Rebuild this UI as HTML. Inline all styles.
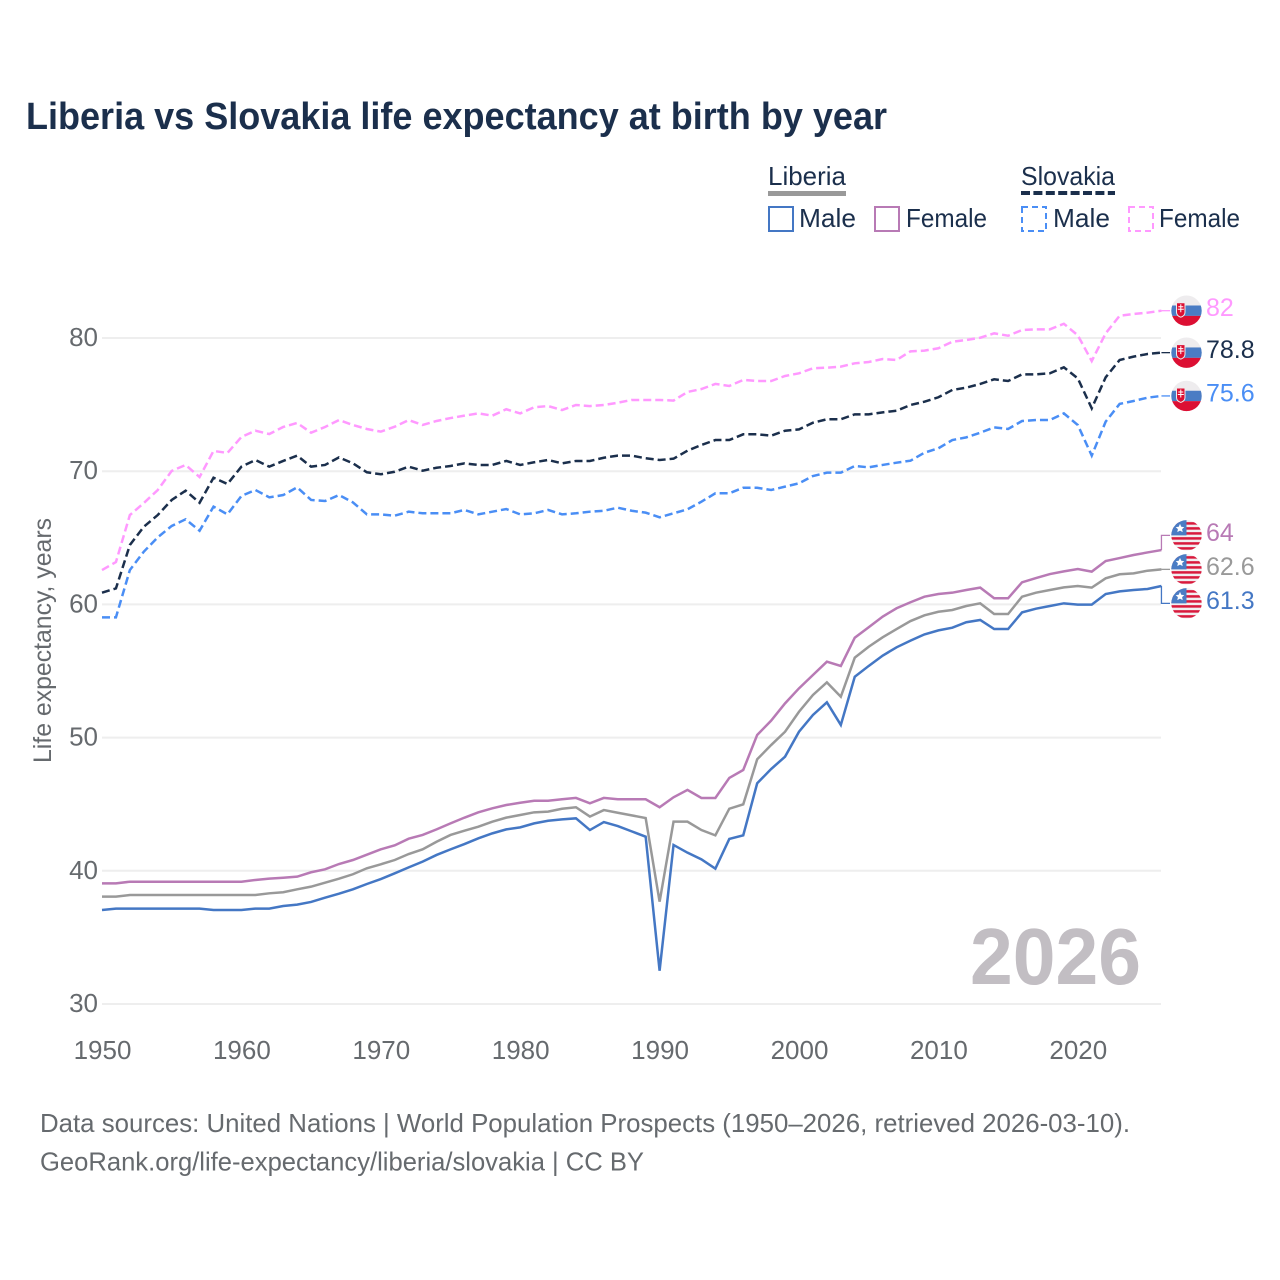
<!DOCTYPE html>
<html lang="en">
<head>
<meta charset="utf-8">
<title>Liberia vs Slovakia life expectancy at birth by year</title>
<style>
html,body{margin:0;padding:0;background:#fff;width:1280px;height:1280px;overflow:hidden}
svg{display:block}
text{font-family:"Liberation Sans",sans-serif}
</style>
</head>
<body>
<svg id="chart" xmlns="http://www.w3.org/2000/svg" width="1280" height="1280" viewBox="0 0 1280 1280">
  <defs>
    <clipPath id="flag-clip"><circle cx="0" cy="0" r="15.2"/></clipPath>
    <g id="flag-sk" clip-path="url(#flag-clip)">
      <rect x="-16" y="-16" width="32" height="32" fill="#eeecee"/>
      <rect x="-16" y="-5.2" width="32" height="10.4" fill="#4a7cc4"/>
      <rect x="-16" y="5.2" width="32" height="11" fill="#dc0f33"/>
      <path d="M-10 -8 H-1.5 V1.5 Q-1.5 5 -5.7 6.5 Q-10 5 -10 1.5 Z" fill="#dc0f33" stroke="#eeecee" stroke-width="1"/>
      <path d="M-6.2 -6.5 h1 v2 h2 v1 h-2 v1.5 h2.5 v1 h-2.5 v2.5 h-1 v-2.5 h-2.5 v-1 h2.5 v-1.5 h-2 v-1 h2 Z" fill="#fff"/>
    </g>
    <g id="flag-us" clip-path="url(#flag-clip)">
      <rect x="-16" y="-16" width="32" height="32" fill="#f1eef0"/>
      <rect x="-16" y="-13.2" width="32" height="2.5" fill="#d9193c"/>
      <rect x="-16" y="-8.2" width="32" height="2.5" fill="#d9193c"/>
      <rect x="-16" y="-3.2" width="32" height="2.5" fill="#d9193c"/>
      <rect x="-16" y="1.8" width="32" height="2.5" fill="#d9193c"/>
      <rect x="-16" y="6.8" width="32" height="2.5" fill="#d9193c"/>
      <rect x="-16" y="11.8" width="32" height="2.5" fill="#d9193c"/>
      <rect x="-16" y="-16" width="16" height="16" fill="#4a7cc4"/>
      <polygon points="-6.5,-11.5 -5.2,-8.6 -2.2,-8.3 -4.4,-6.3 -3.8,-3.3 -6.5,-4.8 -9.2,-3.3 -8.6,-6.3 -10.8,-8.3 -7.8,-8.6" fill="#fff"/>
    </g>
  </defs>

  <text x="26" y="129" font-size="38" font-weight="700" fill="#1b2f4c" textLength="861" lengthAdjust="spacingAndGlyphs">Liberia vs Slovakia life expectancy at birth by year</text>

  <g>
    <text x="768" y="185" font-size="26" fill="#1b2f4c" textLength="78" lengthAdjust="spacingAndGlyphs">Liberia</text>
    <line x1="768" y1="193.5" x2="846" y2="193.5" stroke="#999999" stroke-width="5"/>
    <text x="1021" y="185" font-size="26" fill="#1b2f4c" textLength="94" lengthAdjust="spacingAndGlyphs">Slovakia</text>
    <line x1="1021" y1="193" x2="1115" y2="193" stroke="#1b2f4c" stroke-width="4" stroke-dasharray="9 3.4"/>

    <rect x="769" y="207" width="24" height="24" fill="none" stroke="#4477c4" stroke-width="2"/>
    <text x="799" y="227" font-size="26" fill="#1b2f4c" textLength="57" lengthAdjust="spacingAndGlyphs">Male</text>
    <rect x="875" y="207" width="24" height="24" fill="none" stroke="#b87ab5" stroke-width="2"/>
    <text x="906" y="227" font-size="26" fill="#1b2f4c" textLength="81" lengthAdjust="spacingAndGlyphs">Female</text>
    <rect x="1022" y="207" width="24" height="24" fill="none" stroke="#4a8ef5" stroke-width="2" stroke-dasharray="6 4"/>
    <text x="1053" y="227" font-size="26" fill="#1b2f4c" textLength="57" lengthAdjust="spacingAndGlyphs">Male</text>
    <rect x="1129" y="207" width="24" height="24" fill="none" stroke="#ff99ff" stroke-width="2" stroke-dasharray="6 4"/>
    <text x="1159" y="227" font-size="26" fill="#1b2f4c" textLength="81" lengthAdjust="spacingAndGlyphs">Female</text>
  </g>

  <text transform="translate(51 640.5) rotate(-90)" text-anchor="middle" font-size="25" fill="#666a6e" textLength="245" lengthAdjust="spacingAndGlyphs">Life expectancy, years</text>

  <g id="grid"></g>
  <g id="y-ticks"></g>
  <g id="x-ticks"></g>

  <text x="970" y="984" font-size="80" font-weight="700" fill="#c2bec3" textLength="171" lengthAdjust="spacingAndGlyphs">2026</text>

  <g id="series"></g>
  <g id="end-labels"></g>

  <text x="40" y="1132" font-size="26" fill="#666a6e" textLength="1090" lengthAdjust="spacingAndGlyphs">Data sources: United Nations | World Population Prospects (1950–2026, retrieved 2026-03-10).</text>
  <text x="40" y="1170.5" font-size="26" fill="#666a6e" textLength="604" lengthAdjust="spacingAndGlyphs">GeoRank.org/life-expectancy/liberia/slovakia | CC BY</text>
</svg>

<script>
var firstYear = 1950;
var yTickValues = [30, 40, 50, 60, 70, 80];
var xTickValues = [1950, 1960, 1970, 1980, 1990, 2000, 2010, 2020];

var slovakiaFemale = [62.58,63.18,66.71,67.61,68.59,70.02,70.47,69.56,71.52,71.37,72.57,73.04,72.79,73.32,73.62,72.89,73.32,73.84,73.47,73.17,72.97,73.34,73.84,73.47,73.77,73.99,74.17,74.34,74.17,74.65,74.34,74.8,74.89,74.59,74.97,74.89,74.97,75.14,75.35,75.35,75.35,75.3,75.95,76.17,76.55,76.4,76.85,76.77,76.77,77.15,77.35,77.73,77.77,77.85,78.1,78.2,78.42,78.35,79.0,79.05,79.23,79.72,79.85,80.02,80.35,80.17,80.6,80.65,80.65,81.07,80.2,78.27,80.35,81.67,81.8,81.9,82.05];
var slovakiaTotal = [60.88,61.2,64.46,65.83,66.71,67.84,68.54,67.63,69.51,69.04,70.34,70.84,70.34,70.77,71.17,70.34,70.47,71.04,70.59,69.92,69.77,69.96,70.34,70.04,70.26,70.39,70.59,70.47,70.47,70.77,70.47,70.67,70.84,70.59,70.77,70.77,71.01,71.17,71.17,70.97,70.84,70.94,71.54,71.97,72.34,72.34,72.77,72.77,72.67,73.04,73.14,73.64,73.9,73.9,74.27,74.27,74.42,74.54,74.97,75.22,75.55,76.1,76.27,76.55,76.9,76.77,77.27,77.27,77.35,77.8,76.97,74.72,77.05,78.35,78.6,78.8,78.9];
var slovakiaMale = [59.03,59.03,62.58,63.96,65.04,65.89,66.39,65.53,67.34,66.76,68.14,68.59,68.04,68.21,68.79,67.84,67.76,68.21,67.66,66.76,66.76,66.66,66.96,66.84,66.84,66.84,67.09,66.76,66.96,67.16,66.76,66.84,67.09,66.76,66.84,66.96,67.03,67.26,67.03,66.89,66.54,66.84,67.14,67.71,68.34,68.34,68.76,68.76,68.59,68.84,69.09,69.64,69.89,69.89,70.39,70.29,70.47,70.64,70.79,71.39,71.72,72.34,72.54,72.89,73.29,73.17,73.77,73.84,73.84,74.34,73.47,71.17,73.72,75.05,75.27,75.52,75.65];
var liberiaFemale = [39.06,39.06,39.18,39.18,39.18,39.18,39.18,39.18,39.18,39.18,39.18,39.31,39.41,39.48,39.56,39.89,40.11,40.51,40.81,41.21,41.61,41.91,42.41,42.69,43.11,43.56,43.99,44.39,44.69,44.94,45.11,45.26,45.26,45.37,45.47,45.07,45.47,45.37,45.37,45.37,44.77,45.52,46.07,45.47,45.47,46.97,47.57,50.2,51.27,52.57,53.7,54.7,55.7,55.38,57.5,58.28,59.08,59.71,60.16,60.58,60.78,60.88,61.08,61.26,60.46,60.46,61.66,61.98,62.28,62.48,62.66,62.46,63.26,63.48,63.71,63.9,64.08];
var liberiaTotal = [38.06,38.06,38.18,38.18,38.18,38.18,38.18,38.18,38.18,38.18,38.18,38.18,38.31,38.39,38.61,38.81,39.11,39.41,39.74,40.19,40.49,40.81,41.26,41.61,42.18,42.69,43.01,43.31,43.69,43.99,44.19,44.39,44.44,44.66,44.77,44.07,44.56,44.36,44.16,43.96,37.68,43.69,43.69,43.06,42.66,44.66,44.99,48.37,49.44,50.44,51.94,53.2,54.15,53.07,56.0,56.82,57.53,58.15,58.75,59.18,59.45,59.58,59.88,60.08,59.28,59.28,60.58,60.88,61.08,61.28,61.38,61.26,61.96,62.26,62.33,62.53,62.63];
var liberiaMale = [37.06,37.16,37.16,37.16,37.16,37.16,37.16,37.16,37.06,37.06,37.06,37.16,37.16,37.36,37.46,37.66,37.98,38.28,38.61,39.01,39.38,39.81,40.26,40.69,41.19,41.61,42.01,42.44,42.81,43.11,43.26,43.56,43.76,43.86,43.94,43.06,43.66,43.36,42.96,42.56,32.5,41.94,41.36,40.86,40.16,42.39,42.66,46.57,47.64,48.57,50.44,51.7,52.65,50.95,54.57,55.38,56.15,56.78,57.28,57.75,58.05,58.25,58.66,58.83,58.15,58.15,59.4,59.68,59.88,60.08,59.98,59.98,60.78,60.98,61.08,61.16,61.38];

var endLabelValues = ["82", "78.8", "75.6", "64", "62.6", "61.3"];

var NS = "http://www.w3.org/2000/svg";
function xScale(year) { return 102 + (year - 1950) * 13.94; }
function yScale(v) { return 338 + (80 - v) * 13.32; }
function make(tag, attrs, parent) {
  var el = document.createElementNS(NS, tag);
  for (var k in attrs) el.setAttribute(k, attrs[k]);
  parent.appendChild(el);
  return el;
}

var gridG = document.getElementById("grid");
var yG = document.getElementById("y-ticks");
var xG = document.getElementById("x-ticks");
yTickValues.forEach(function (v) {
  var line = make("line", { x1: 102, x2: 1161, y1: yScale(v), y2: yScale(v), stroke: "#eeeeee", "stroke-width": 2 }, gridG);
  
  
  var t = make("text", { x: 98, y: yScale(v) + 8, "text-anchor": "end", "font-size": 26, fill: "#666a6e" }, yG);
  t.textContent = String(v);
  
  
});
xTickValues.forEach(function (y) {
  var t = make("text", { x: xScale(y) + 0.5, y: 1059, "text-anchor": "middle", "font-size": 26, fill: "#666a6e" }, xG);
  t.textContent = String(y);
  
  
});

var seriesG = document.getElementById("series");
var labelsG = document.getElementById("end-labels");
function drawSeries(values, color, dash, width) {
  var pts = values.map(function (v, i) {
    return xScale(firstYear + i).toFixed(2) + "," + yScale(v).toFixed(2);
  }).join(" ");
  var attrs = { points: pts, fill: "none", stroke: color, "stroke-width": width, "stroke-linejoin": "miter" };
  if (dash) attrs["stroke-dasharray"] = dash;
  return make("polyline", attrs, seriesG);
}

var sl1 = drawSeries(liberiaTotal, "#999999", null, 2.5);


var sl2 = drawSeries(liberiaFemale, "#b87ab5", null, 2.5);


var sl3 = drawSeries(liberiaMale, "#4477c4", null, 2.5);


var sl4 = drawSeries(slovakiaFemale, "#ff99ff", "8 4", 2.5);


var sl5 = drawSeries(slovakiaTotal, "#1b2f4c", "8 4", 2.5);


var sl6 = drawSeries(slovakiaMale, "#4a8ef5", "8 4", 2.5);



function last(a) { return a[a.length - 1]; }
var grayY = yScale(last(liberiaTotal));
var endEntries = [
  { s: slovakiaFemale, flag: "#flag-sk", color: "#ff99ff", offset: 0, idx: 0 },
  { s: slovakiaTotal, flag: "#flag-sk", color: "#1b2f4c", offset: 0, idx: 1 },
  { s: slovakiaMale, flag: "#flag-sk", color: "#4a8ef5", offset: 0, idx: 2 },
  { s: liberiaFemale, flag: "#flag-us", color: "#b87ab5", offset: -34, idx: 3 },
  { s: liberiaTotal, flag: "#flag-us", color: "#999999", offset: 0, idx: 4 },
  { s: liberiaMale, flag: "#flag-us", color: "#4477c4", offset: 34, idx: 5 }
];
endEntries.forEach(function (e) {
  var y0 = yScale(last(e.s));
  var yL = e.offset === 0 ? y0 : grayY + e.offset;
  var xEnd = xScale(2026);
  var conn = make("polyline", { points: xEnd + "," + y0 + " " + xEnd + "," + yL + " 1170," + yL, fill: "none", stroke: e.color, "stroke-width": 1.3 }, labelsG);
  
  
  var flag = make("use", { href: e.flag, x: 1186.5, y: yL }, labelsG);
  
  
  var t = make("text", { x: 1206, y: yL + 5.5, "font-size": 25, fill: e.color }, labelsG);
  t.textContent = endLabelValues[e.idx];
  
  
});
</script>
</body>
</html>
